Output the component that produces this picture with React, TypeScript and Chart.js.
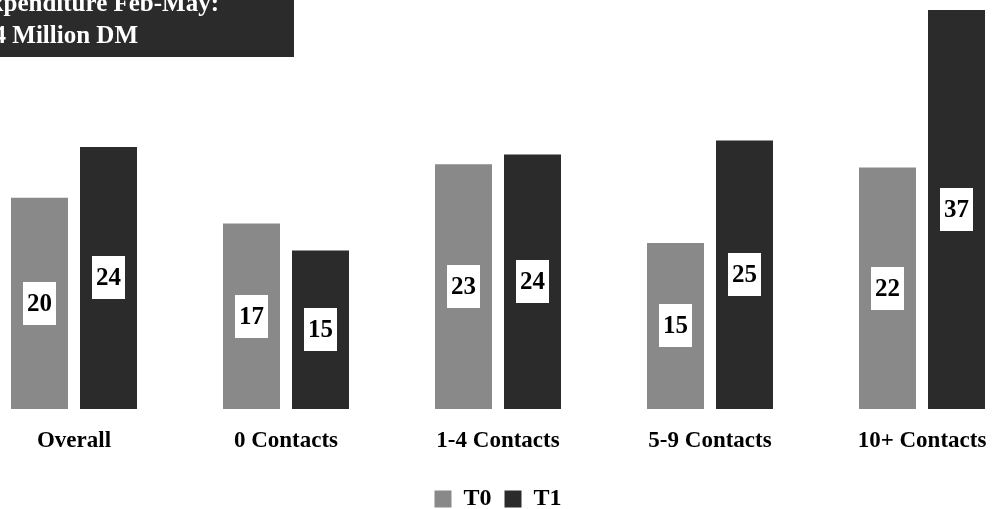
import React, { useEffect, useRef } from "react";
import { Chart, registerables } from "chart.js";

Chart.register(...registerables);

const categories = ["Overall", "0 Contacts", "1-4 Contacts", "5-9 Contacts", "10+ Contacts"];
const seriesNames = ["T0", "T1"];
const t0Values = [19.6, 17.2, 22.7, 15.4, 22.4];
const t1Values = [24.3, 14.7, 23.6, 24.9, 37.0];
const titleLines = ["Expenditure Feb-May:", "24 Million DM"];
const yMax = 37.93;

const COLOR_T0 = "#898989";
const COLOR_T1 = "#2b2b2b";
const SERIF = "'Liberation Serif', 'Times New Roman', serif";

const CANVAS_W = 1060;
const CANVAS_H = 521;
const OFFSET_X = -32;

const valueLabelPlugin = {
  id: "valueLabels",
  afterDatasetsDraw(chart: any) {
    const ctx = chart.ctx;
    ctx.save();
    chart.data.datasets.forEach((ds: any, di: number) => {
      const meta = chart.getDatasetMeta(di);
      meta.data.forEach((el: any, i: number) => {
        const v = ds.data[i];
        const cx = el.x;
        const cy = (el.y + el.base) / 2;
        const w = 33;
        const h = 43;
        ctx.fillStyle = "#ffffff";
        ctx.fillRect(Math.round(cx - w / 2), Math.round(cy - h / 2), w, h);
        ctx.fillStyle = "#000000";
        ctx.font = `bold 25px ${SERIF}`;
        ctx.textAlign = "center";
        ctx.textBaseline = "middle";
        ctx.fillText(String(Math.round(v)), cx, cy + 1);
      });
    });
    ctx.restore();
  },
};

const titleBoxPlugin = {
  id: "titleBox",
  afterDraw(chart: any) {
    const ctx = chart.ctx;
    ctx.save();
    const right = 294 - OFFSET_X;
    ctx.fillStyle = COLOR_T1;
    ctx.fillRect(0, 0, right, 57);
    ctx.fillStyle = "#ffffff";
    ctx.font = `bold 25px ${SERIF}`;
    ctx.textAlign = "right";
    ctx.textBaseline = "alphabetic";
    ctx.fillText(titleLines[0], 219 - OFFSET_X, 11);
    ctx.fillText(titleLines[1], 138 - OFFSET_X, 43);
    ctx.restore();
  },
};

export default function App() {
  const canvasRef = useRef<HTMLCanvasElement | null>(null);

  useEffect(() => {
    if (!canvasRef.current) return;
    const chart = new Chart(canvasRef.current, {
      type: "bar",
      data: {
        labels: categories,
        datasets: [
          {
            label: seriesNames[0],
            data: t0Values,
            backgroundColor: COLOR_T0,
            borderWidth: 0,
            categoryPercentage: 0.651,
            barPercentage: 0.826,
          },
          {
            label: seriesNames[1],
            data: t1Values,
            backgroundColor: COLOR_T1,
            borderWidth: 0,
            categoryPercentage: 0.651,
            barPercentage: 0.826,
          },
        ],
      },
      options: {
        responsive: false,
        animation: false,
        devicePixelRatio: 1,
        layout: { padding: 0 },
        plugins: {
          tooltip: { enabled: false },
          title: { display: false },
          legend: {
            display: true,
            position: "bottom",
            labels: {
              boxWidth: 17,
              boxHeight: 17,
              padding: 13,
              color: "#000000",
              font: { family: SERIF, size: 24, weight: "bold" },
            },
          },
        },
        scales: {
          x: {
            grid: { display: false, drawTicks: false },
            border: { display: false },
            ticks: {
              color: "#000000",
              padding: 0,
              maxRotation: 0,
              autoSkip: false,
              font: { family: SERIF, size: 23, weight: "bold", lineHeight: "65px" },
            },
          },
          y: {
            display: false,
            min: 0,
            max: yMax,
          },
        },
      },
      plugins: [valueLabelPlugin, titleBoxPlugin],
    });
    return () => chart.destroy();
  }, []);

  return (
    <div
      style={{
        position: "fixed",
        left: 0,
        top: 0,
        width: 992,
        height: 509,
        overflow: "hidden",
        background: "#ffffff",
      }}
    >
      <canvas
        ref={canvasRef}
        width={CANVAS_W}
        height={CANVAS_H}
        style={{ position: "absolute", left: OFFSET_X, top: 0, width: CANVAS_W, height: CANVAS_H }}
      />
    </div>
  );
}
